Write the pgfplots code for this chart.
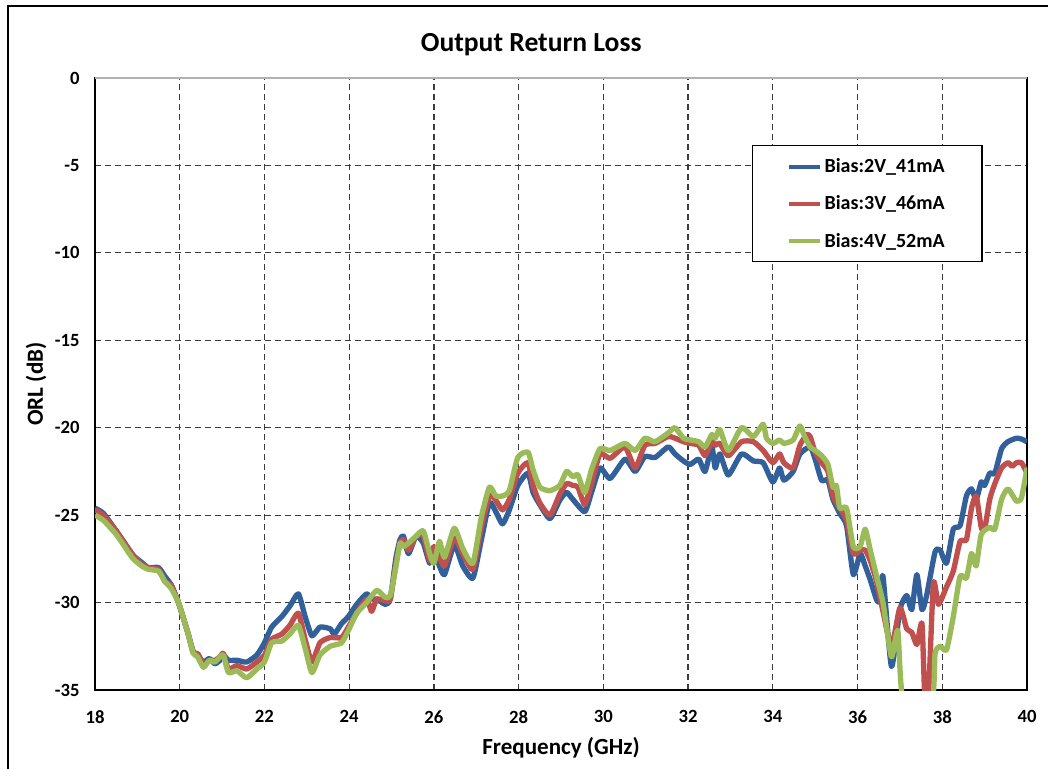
\documentclass[border=0pt]{standalone}
\usepackage{pgfplots}
\pgfplotsset{compat=1.18}
\usepackage{fontspec}
\setmainfont{Carlito}
\definecolor{sBlue}{RGB}{49,96,154}
\definecolor{sRed}{RGB}{192,80,77}
\definecolor{sGreen}{RGB}{155,187,89}
\definecolor{gridc}{RGB}{60,60,60}
\begin{document}
\begin{tikzpicture}
\useasboundingbox (0,0) rectangle (786pt,576pt);
\draw[line width=2.2pt] (6pt,-20pt) rectangle (830pt,571.5pt);
\begin{axis}[
    at={(71.25pt,58.5pt)}, anchor=south west,
    scale only axis, width=699pt, height=459pt,
    xmin=18, xmax=40, ymin=-35, ymax=0,
    xtick={18,20,...,40}, ytick={-35,-30,...,0},
    major tick length=0pt,
    grid=major,
    major grid style={gridc, line width=0.9pt, dash pattern=on 4.3pt off 3.2pt},
    axis line style={black, line width=2pt},
    font=\bfseries,
    ticklabel style={font=\fontsize{14}{16}\selectfont\bfseries},
    /pgf/number format/assume math mode=true,
    yticklabel style={xshift=-8pt},
    xticklabel style={yshift=-12pt},
    title={Output Return Loss},
    title style={at={(axis description cs:0.468,1.041)}, anchor=center, font=\fontsize{20.7}{24}\selectfont\bfseries},
    xlabel={Frequency (GHz)},
    xlabel style={at={(axis description cs:0.5,-0.0948)}, anchor=center, font=\fontsize{17.3}{20}\selectfont\bfseries},
    ylabel={ORL (dB)},
    ylabel style={at={(axis description cs:-0.0633,0.5)}, anchor=center, font=\fontsize{17.3}{20}\selectfont\bfseries},
    legend style={at={(0.705,0.89)}, anchor=north west, draw=black, line width=0.8pt,
        font=\fontsize{15}{17}\selectfont\bfseries, inner xsep=26pt, inner ysep=7.5pt, row sep=12pt},
    legend cell align=left,
    legend image code/.code={\draw[#1, line width=3pt] (0pt,0pt) -- (23pt,0pt);},
    every axis plot/.append style={line width=4pt, line join=round, smooth, tension=0.35},
]
\addplot[sBlue] coordinates {
(18,-24.6) (18.2,-24.9) (18.5,-25.9) (18.7,-26.6) (18.9,-27.3) (19.1,-27.7) (19.26,-28.0) (19.5,-28.0) (19.65,-28.5) (19.8,-29.0) (19.97,-30.0) (20.1,-31.0) (20.2,-31.8) (20.32,-32.8) (20.42,-33.0) (20.56,-33.4) (20.7,-33.2) (20.83,-33.5) (20.95,-33.3) (21.03,-33.0) (21.15,-33.3) (21.35,-33.3) (21.58,-33.4) (21.82,-33.0) (22.0,-32.3) (22.17,-31.4) (22.41,-30.8) (22.6,-30.2) (22.8,-29.5) (22.96,-30.8) (23.12,-31.9) (23.31,-31.4) (23.55,-31.5) (23.65,-31.8) (23.82,-31.2) (23.98,-30.8) (24.18,-30.1) (24.41,-29.5) (24.53,-29.8) (24.65,-29.8) (24.85,-30.1) (24.97,-29.8) (25.1,-27.5) (25.2,-26.4) (25.28,-26.2) (25.4,-27.2) (25.58,-26.2) (25.75,-26.6) (25.9,-27.75) (26.0,-27.1) (26.13,-27.9) (26.25,-28.4) (26.48,-26.7) (26.68,-27.9) (26.92,-28.6) (27.12,-26.4) (27.31,-24.3) (27.46,-24.8) (27.62,-25.5) (27.78,-24.7) (27.98,-23.3) (28.22,-22.6) (28.34,-23.7) (28.5,-24.4) (28.74,-25.2) (28.97,-24.15) (29.13,-23.7) (29.28,-24.1) (29.56,-24.8) (29.72,-23.7) (29.92,-22.3) (30.16,-22.9) (30.51,-21.8) (30.75,-22.5) (30.98,-21.65) (31.22,-21.7) (31.53,-21.1) (31.69,-21.5) (31.89,-21.9) (32.05,-22.1) (32.25,-21.8) (32.4,-22.5) (32.56,-21.1) (32.64,-22.3) (32.75,-21.5) (32.95,-22.7) (33.26,-21.5) (33.54,-21.9) (33.77,-22.0) (34.0,-23.1) (34.16,-22.3) (34.26,-23.0) (34.48,-22.5) (34.64,-21.5) (34.88,-21.1) (35.0,-21.8) (35.15,-23.0) (35.3,-23.0) (35.42,-24.1) (35.58,-24.9) (35.74,-25.6) (35.9,-28.4) (36.06,-27.2) (36.18,-27.9) (36.3,-28.7) (36.45,-29.85) (36.52,-29.9) (36.6,-28.5) (36.8,-33.65) (37.0,-30.4) (37.16,-29.6) (37.28,-30.4) (37.4,-28.4) (37.52,-30.4) (37.63,-29.6) (37.83,-27.1) (37.95,-27.0) (38.1,-27.75) (38.26,-25.8) (38.42,-25.6) (38.57,-23.9) (38.69,-23.5) (38.8,-24.1) (38.92,-23.1) (39.0,-23.3) (39.12,-22.6) (39.24,-22.6) (39.4,-21.2) (39.55,-20.8) (39.75,-20.6) (39.87,-20.65) (40.0,-20.8)
};
\addlegendentry{Bias:2V\_41mA}
\addplot[sRed] coordinates {
(18,-24.7) (18.2,-25.0) (18.5,-25.9) (18.7,-26.6) (18.9,-27.3) (19.1,-27.8) (19.26,-28.0) (19.5,-28.1) (19.65,-28.8) (19.8,-29.0) (19.97,-30.0) (20.1,-31.0) (20.2,-31.8) (20.32,-32.9) (20.42,-32.9) (20.56,-33.5) (20.7,-33.3) (20.83,-33.3) (20.95,-33.1) (21.03,-32.9) (21.15,-33.8) (21.35,-33.6) (21.58,-33.8) (21.82,-33.4) (22.0,-33.0) (22.17,-32.1) (22.41,-31.8) (22.6,-31.3) (22.8,-30.6) (22.96,-32.1) (23.12,-33.4) (23.31,-32.3) (23.55,-32.0) (23.82,-32.0) (23.98,-31.4) (24.18,-30.6) (24.41,-29.8) (24.53,-30.5) (24.65,-29.8) (24.85,-29.9) (24.97,-29.8) (25.1,-27.8) (25.2,-26.6) (25.28,-26.4) (25.4,-27.0) (25.58,-26.2) (25.75,-26.2) (25.9,-27.6) (26.0,-26.8) (26.13,-27.4) (26.25,-27.9) (26.48,-26.3) (26.68,-27.2) (26.92,-28.1) (27.12,-25.7) (27.31,-23.9) (27.46,-24.15) (27.62,-24.7) (27.78,-24.1) (27.98,-22.6) (28.22,-22.0) (28.34,-23.3) (28.5,-24.3) (28.74,-25.0) (28.97,-23.8) (29.13,-23.2) (29.28,-23.3) (29.4,-23.4) (29.56,-24.4) (29.72,-23.2) (29.92,-21.5) (30.16,-21.75) (30.51,-21.1) (30.75,-22.3) (30.98,-21.0) (31.22,-20.9) (31.53,-20.5) (31.69,-20.6) (31.89,-20.8) (32.05,-20.9) (32.25,-21.0) (32.4,-21.6) (32.56,-20.8) (32.64,-21.0) (32.75,-20.9) (32.95,-21.6) (33.26,-20.8) (33.54,-20.8) (33.77,-21.3) (34.0,-22.0) (34.16,-21.5) (34.26,-22.0) (34.48,-22.3) (34.64,-21.0) (34.8,-20.4) (34.88,-20.5) (35.0,-21.4) (35.15,-22.0) (35.3,-22.5) (35.42,-23.9) (35.58,-24.6) (35.74,-25.3) (35.9,-27.2) (36.06,-27.0) (36.18,-27.0) (36.3,-27.6) (36.45,-28.8) (36.6,-30.5) (36.8,-32.5) (37.0,-30.3) (37.16,-31.5) (37.28,-31.7) (37.4,-32.4) (37.52,-31.2) (37.59,-35.6) (37.67,-35.6) (37.79,-28.9) (37.91,-30.1) (38.1,-29.1) (38.26,-28.2) (38.42,-26.5) (38.57,-26.4) (38.69,-24.6) (38.8,-23.9) (38.92,-25.7) (39.0,-25.8) (39.12,-24.1) (39.24,-23.2) (39.4,-22.3) (39.55,-22.0) (39.65,-22.2) (39.75,-22.0) (39.87,-22.0) (40.0,-22.6)
};
\addlegendentry{Bias:3V\_46mA}
\addplot[sGreen] coordinates {
(18,-25.0) (18.2,-25.3) (18.5,-26.1) (18.7,-26.8) (18.9,-27.5) (19.1,-27.9) (19.26,-28.1) (19.5,-28.2) (19.65,-28.8) (19.8,-29.2) (19.97,-30.0) (20.1,-31.0) (20.2,-31.8) (20.32,-32.9) (20.42,-33.1) (20.56,-33.7) (20.7,-33.3) (20.83,-33.4) (20.95,-33.1) (21.03,-33.0) (21.15,-34.0) (21.35,-33.9) (21.58,-34.3) (21.82,-33.8) (22.0,-33.4) (22.17,-32.3) (22.41,-32.2) (22.6,-31.8) (22.8,-31.3) (22.96,-32.6) (23.12,-34.0) (23.31,-33.0) (23.55,-32.5) (23.82,-32.3) (23.98,-31.6) (24.18,-30.6) (24.41,-30.0) (24.65,-29.3) (24.85,-29.7) (24.97,-29.6) (25.1,-28.0) (25.2,-26.6) (25.28,-26.8) (25.4,-26.6) (25.58,-26.2) (25.75,-25.9) (25.9,-27.2) (26.0,-27.75) (26.13,-26.5) (26.25,-27.4) (26.48,-25.75) (26.68,-26.9) (26.92,-27.75) (27.12,-25.1) (27.31,-23.4) (27.46,-23.9) (27.62,-23.9) (27.78,-23.6) (27.98,-21.7) (28.22,-21.4) (28.34,-22.4) (28.5,-23.4) (28.74,-23.6) (28.97,-23.3) (29.13,-22.5) (29.28,-22.8) (29.4,-22.7) (29.56,-23.7) (29.72,-22.4) (29.92,-21.2) (30.16,-21.3) (30.51,-20.9) (30.75,-21.3) (30.98,-20.6) (31.22,-20.8) (31.53,-20.3) (31.69,-20.0) (31.89,-20.6) (32.05,-20.7) (32.25,-20.8) (32.4,-21.1) (32.56,-20.4) (32.64,-20.6) (32.75,-20.1) (32.95,-21.3) (33.26,-20.0) (33.54,-20.5) (33.77,-19.8) (33.85,-20.6) (34.0,-20.9) (34.16,-20.7) (34.26,-20.9) (34.48,-20.7) (34.64,-19.9) (34.75,-20.5) (34.88,-21.1) (35.0,-21.3) (35.15,-21.6) (35.3,-22.1) (35.42,-23.4) (35.5,-23.3) (35.58,-24.6) (35.74,-24.6) (35.9,-26.8) (36.06,-26.8) (36.18,-25.8) (36.3,-27.0) (36.45,-28.5) (36.6,-30.0) (36.8,-33.1) (36.95,-31.6) (37.08,-35.6) (37.75,-35.6) (37.83,-32.9) (37.95,-32.5) (38.1,-32.7) (38.26,-30.8) (38.42,-28.5) (38.57,-28.6) (38.69,-27.2) (38.8,-27.9) (38.92,-26.1) (39.12,-25.7) (39.24,-25.8) (39.4,-24.1) (39.55,-23.5) (39.75,-24.2) (39.87,-24.0) (40.0,-22.3)
};
\addlegendentry{Bias:4V\_52mA}
\draw[gray!60, line width=1.6pt] (rel axis cs:0,1) -- (rel axis cs:1,1);
\end{axis}
\end{tikzpicture}
\end{document}
